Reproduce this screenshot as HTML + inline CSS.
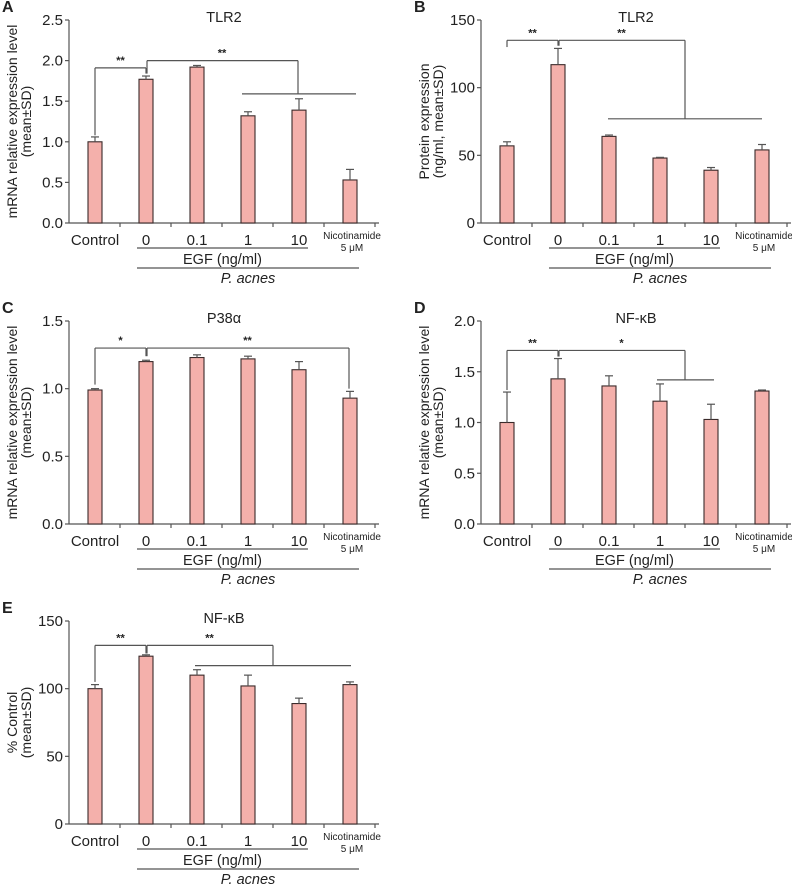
<!DOCTYPE html>
<html><head><meta charset="utf-8">
<style>
html,body{margin:0;padding:0;background:#fff;}
svg{display:block;font-family:"Liberation Sans",sans-serif;}
</style></head>
<body>
<svg id="fig" width="792" height="885" viewBox="0 0 792 885" xmlns="http://www.w3.org/2000/svg"></svg>
<script>
const categories = ["Control","0","0.1","1","10","Nicotinamide"];
const valuesA = [1.0,1.77,1.92,1.32,1.39,0.53];
const errorsA = [0.06,0.04,0.02,0.05,0.14,0.13];
const valuesB = [57,117,64,48,39,54];
const errorsB = [3,12,1,0.5,2,4];
const valuesC = [0.99,1.20,1.23,1.22,1.14,0.93];
const errorsC = [0.01,0.01,0.02,0.02,0.06,0.05];
const valuesD = [1.0,1.43,1.36,1.21,1.03,1.31];
const errorsD = [0.30,0.20,0.10,0.17,0.15,0.01];
const valuesE = [100,124,110,102,89,103];
const errorsE = [3,1,4,8,4,2];
const ticksA = [0,0.5,1.0,1.5,2.0,2.5];
const ticksB = [0,50,100,150];
const ticksC = [0,0.5,1.0,1.5];
const ticksD = [0,0.5,1.0,1.5,2.0];
const ticksE = [0,50,100,150];

const NS="http://www.w3.org/2000/svg";
const svg=document.getElementById('fig');
function mk(tag,attrs,parent,text){const e=document.createElementNS(NS,tag);for(const k in attrs)e.setAttribute(k,attrs[k]);if(text!==undefined)e.textContent=text;(parent||svg).appendChild(e);return e;}
const LC="#555";

function panel(cfg){
  const g=mk('g',{});
  
  
  const x0=cfg.ox+69, top=cfg.oy+20, bot=cfg.oy+223, H=bot-top, ymax=cfg.ticks[cfg.ticks.length-1];
  const Y=v=>bot-v/ymax*H;
  const X=i=>x0+26+51*i;
  const tX=i=>x0+51*i;
  const L=(x1,y1,x2,y2,name)=>{const l=mk('line',{x1,y1,x2,y2,stroke:LC,'stroke-width':1.2},g);return l;};
  const T=(x,y,s,attrs,name)=>{const t=mk('text',Object.assign({x,y,'font-size':13,fill:'#222'},attrs),g,s);return t;};
  T(cfg.ox+2,cfg.oy+12,cfg.letter,{'font-weight':'bold','font-size':16},'panel-letter');
  T(x0+155,cfg.oy+22,cfg.title,{'text-anchor':'middle','font-size':14.5},'chart-title');
  const yl=mk('text',{transform:`translate(${x0-52},${(top+bot)/2}) rotate(-90)`,'text-anchor':'middle','font-size':14,fill:'#222'},g,cfg.ylab1);
  
  const yl2=mk('text',{transform:`translate(${x0-38},${(top+bot)/2}) rotate(-90)`,'text-anchor':'middle','font-size':14,fill:'#222'},g,cfg.ylab2);
  
  L(x0,top,x0,bot,'y-axis');
  L(x0,bot,x0+310,bot,'x-axis');
  cfg.ticks.forEach(v=>{L(x0-4,Y(v),x0,Y(v),'y-tick');T(x0-6,Y(v)+5,cfg.fmt(v),{'text-anchor':'end','font-size':15},'y-tick-label');});
  for(let i=1;i<=6;i++)L(tX(i),bot,tX(i),bot+4,'x-tick');
  cfg.values.forEach((v,i)=>{
    const b=mk('rect',{x:X(i)-7,y:Y(v),width:14,height:bot-Y(v),fill:'#f4b0ab',stroke:'#3a2a2a','stroke-width':1.1},g);
    
    
    const e=cfg.errors[i];
    L(X(i),Y(v),X(i),Y(v+e),'error-bar');
    L(X(i)-4,Y(v+e),X(i)+4,Y(v+e),'error-cap');
  });
  for(let i=0;i<5;i++)T(X(i),bot+22,categories[i],{'text-anchor':'middle','font-size':15},'x-tick-label');
  T(X(5)+2,bot+16,'Nicotinamide',{'text-anchor':'middle','font-size':10},'x-tick-label');
  T(X(5)+2,bot+28,'5 μM',{'text-anchor':'middle','font-size':10},'x-tick-label');
  L(X(1)-9,bot+25,X(4)+9,bot+25,'egf-group-line');
  T((X(1)+X(4))/2,bot+41,'EGF (ng/ml)',{'text-anchor':'middle','font-size':14.5},'egf-group-label');
  L(X(1)-9,bot+45,X(5)+9,bot+45,'p-acnes-group-line');
  T((X(1)+X(5))/2,bot+60,'P. acnes',{'text-anchor':'middle','font-size':14.5,'font-style':'italic'},'p-acnes-group-label');
  const b1=cfg.b1;
  L(X(0),Y(b1.top),X(1),Y(b1.top),'sig-bracket');
  L(X(0),Y(b1.top),X(0),Y(b1.left),'sig-bracket');
  L(X(1),Y(b1.top),X(1),Y(b1.right),'sig-bracket');
  T((X(0)+X(1))/2,Y(b1.top)-4,b1.stars,{'text-anchor':'middle','font-size':11,'font-weight':'bold'},'sig-stars');
  const b2=cfg.b2, xr=x0+b2.xr;
  L(X(1)+1,Y(b2.top),xr,Y(b2.top),'sig-bracket');
  L(X(1)+1,Y(b2.top),X(1)+1,Y(b1.right),'sig-bracket');
  L(xr,Y(b2.top),xr,Y(b2.down),'sig-bracket');
  if(b2.h){L(x0+b2.h[0],Y(b2.down),x0+b2.h[1],Y(b2.down),'sig-group-line');}
  T((X(1)+xr)/2,Y(b2.top)-4,b2.stars,{'text-anchor':'middle','font-size':11,'font-weight':'bold'},'sig-stars');
}
const y1="mRNA relative expression level", y2="(mean±SD)";
panel({letter:'A',ox:0,oy:0,title:'TLR2',ylab1:y1,ylab2:y2,values:valuesA,errors:errorsA,ticks:ticksA,fmt:v=>v.toFixed(1),
  b1:{top:1.91,left:1.08,right:1.84,stars:'**'},b2:{top:2.0,xr:229,down:1.59,h:[173,287],stars:'**'}});
panel({letter:'B',ox:412,oy:0,title:'TLR2',ylab1:'Protein expression',ylab2:'(ng/ml, mean±SD)',values:valuesB,errors:errorsB,ticks:ticksB,fmt:v=>String(v),
  b1:{top:135,left:130,right:131,stars:'**'},b2:{top:135,xr:204,down:77,h:[127,281],stars:'**'}});
panel({letter:'C',ox:0,oy:301,title:'P38α',ylab1:y1,ylab2:y2,values:valuesC,errors:errorsC,ticks:ticksC,fmt:v=>v.toFixed(1),
  b1:{top:1.30,left:1.03,right:1.24,stars:'*'},b2:{top:1.30,xr:280,down:1.0,stars:'**'}});
panel({letter:'D',ox:412,oy:301,title:'NF-κB',ylab1:y1,ylab2:y2,values:valuesD,errors:errorsD,ticks:ticksD,fmt:v=>v.toFixed(1),
  b1:{top:1.71,left:1.32,right:1.65,stars:'**'},b2:{top:1.71,xr:204,down:1.42,h:[176,233],stars:'*'}});
panel({letter:'E',ox:0,oy:601,title:'NF-κB',ylab1:'% Control',ylab2:'(mean±SD)',values:valuesE,errors:errorsE,ticks:ticksE,fmt:v=>String(v),
  b1:{top:132,left:105,right:126,stars:'**'},b2:{top:132,xr:204,down:117,h:[126,282],stars:'**'}});
</script>
</body></html>
